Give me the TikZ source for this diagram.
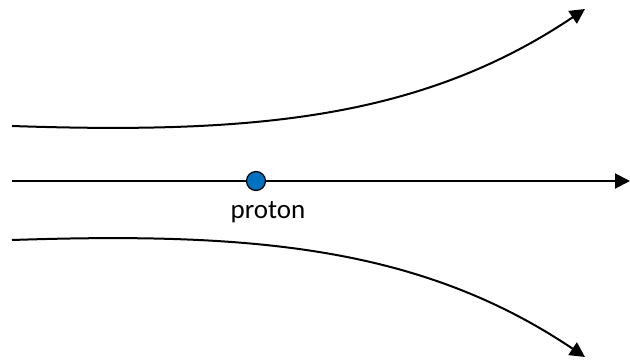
\documentclass[tikz,border=0pt]{standalone}
\usepackage{fontspec}
\setmainfont{Carlito}
\usetikzlibrary{arrows.meta}
\definecolor{protonblue}{HTML}{0070C0}
\begin{document}
\begin{tikzpicture}[x=1pt,y=-1pt,
  path/.style={line width=2pt,-{Triangle[length=15pt,width=15pt]}},
  particle/.style={circle,draw=black,line width=1.2pt,fill=protonblue,minimum size=19pt,inner sep=0pt}]
\useasboundingbox (0,0) rectangle (630,360);
\coordinate (tl) at (12,126);
\coordinate (tr) at (585,9);
\coordinate (ml) at (12,181);
\coordinate (mr) at (630,181);
\coordinate (bl) at (12,240);
\coordinate (br) at (585,357);
\draw[path] (tl) .. controls (250,134) and (420,120) .. (tr);
\draw[path] (bl) .. controls (250,232) and (420,246) .. (br);
\draw[path] (ml) -- (mr);
\node[particle] (p) at (256,181) {};
\node[font=\fontsize{27}{30}\selectfont,anchor=base] (lbl) at (268,218) {proton};
\end{tikzpicture}
\end{document}
